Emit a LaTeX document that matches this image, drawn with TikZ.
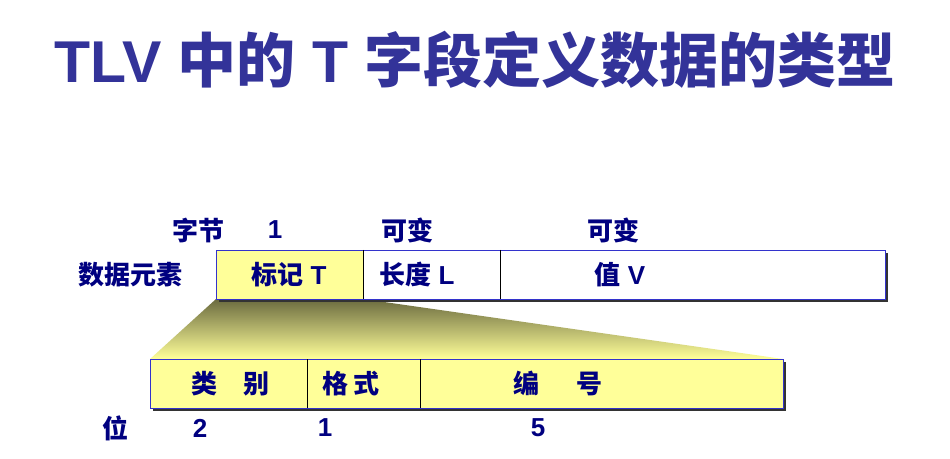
\documentclass[tikz,border=0pt]{standalone}
\usepackage{fontspec}
\setmainfont{Liberation Sans}
\newfontfamily\cjk{Noto Sans CJK SC}
\usetikzlibrary{positioning, backgrounds}

\definecolor{titleblue}{HTML}{333399}
\definecolor{navy}{HTML}{000080}
\definecolor{paleyellow}{HTML}{FFFF99}
\definecolor{wedgetop}{HTML}{6B6B3F}
\definecolor{edgeblue}{HTML}{3333CC}
\newcommand\zh[1]{{\cjk #1}}

\begin{document}
\begin{tikzpicture}[x=1pt, y=1pt,
    cell/.style={rectangle, inner sep=0pt, minimum height=49pt, outer sep=0pt},
    lbl/.style={text=navy, inner sep=0pt, font=\bfseries\fontsize{26}{30}\selectfont},
    title/.style={text=titleblue, inner sep=0pt, font=\bfseries\fontsize{59}{66}\selectfont}
]
\useasboundingbox (0,0) rectangle (950,458);

\node[title] (head) at (475,398) {TLV \zh{中的} T \zh{字段定义数据的类型}};

% upper row: T, L, V
\node[cell, fill=paleyellow, minimum width=147pt, anchor=south west] (tag) at (216,159) {};
\node[cell, fill=white, minimum width=137pt, right=0pt of tag] (len) {};
\node[cell, fill=white, minimum width=385pt, right=0pt of len] (val) {};
\draw[edgeblue] (tag.south west) rectangle (val.north east);
\draw (tag.north east) -- (tag.south east);
\draw (len.north east) -- (len.south east);

% lower row: bits of T
\node[cell, fill=paleyellow, minimum width=157pt, anchor=south west] (kind) at (150,50) {};
\node[cell, fill=paleyellow, minimum width=113pt, right=0pt of kind] (fmt) {};
\node[cell, fill=paleyellow, minimum width=363pt, right=0pt of fmt] (num) {};
\draw[edgeblue] (kind.south west) rectangle (num.north east);
\draw (kind.north east) -- (kind.south east);
\draw (fmt.north east) -- (fmt.south east);

\begin{pgfonlayer}{background}
\shade[top color=wedgetop, bottom color=paleyellow]
    (tag.south west) -- (tag.south east) -- (num.north east) -- (kind.north west) -- cycle;
\fill[black!80] ([shift={(3,-3)}]tag.south west) rectangle ([shift={(3,-3)}]val.north east);
\fill[black!80] ([shift={(3,-3)}]kind.south west) rectangle ([shift={(3,-3)}]num.north east);
\end{pgfonlayer}

% cell texts
\node[lbl] (tagtxt) at (289,183.5) {\zh{标记} T};
\node[lbl] (lentxt) at (417,183.5) {\zh{长度} L};
\node[lbl] (valtxt) at (620,183.5) {\zh{值} V};
\node[lbl] (kindtxt) at (230,74.5) {\zh{类\hspace{1em}别}};
\node[lbl] (fmttxt) at (351,74.5) {\zh{格 式}};
\node[lbl] (numtxt) at (558,74.5) {\zh{编\hspace{1.4em}号}};

% side captions
\node[lbl] (bytes) at (198,228) {\zh{字节}};
\node[lbl] (b1) at (275,228) {1};
\node[lbl] (b2) at (407,228) {\zh{可变}};
\node[lbl] (b3) at (613,228) {\zh{可变}};
\node[lbl] (elem) at (130,183.5) {\zh{数据元素}};
\node[lbl] (bits) at (115,30) {\zh{位}};
\node[lbl] (n1) at (200,30) {2};
\node[lbl] (n2) at (325,30) {1};
\node[lbl] (n3) at (538,30) {5};
\end{tikzpicture}
\end{document}
